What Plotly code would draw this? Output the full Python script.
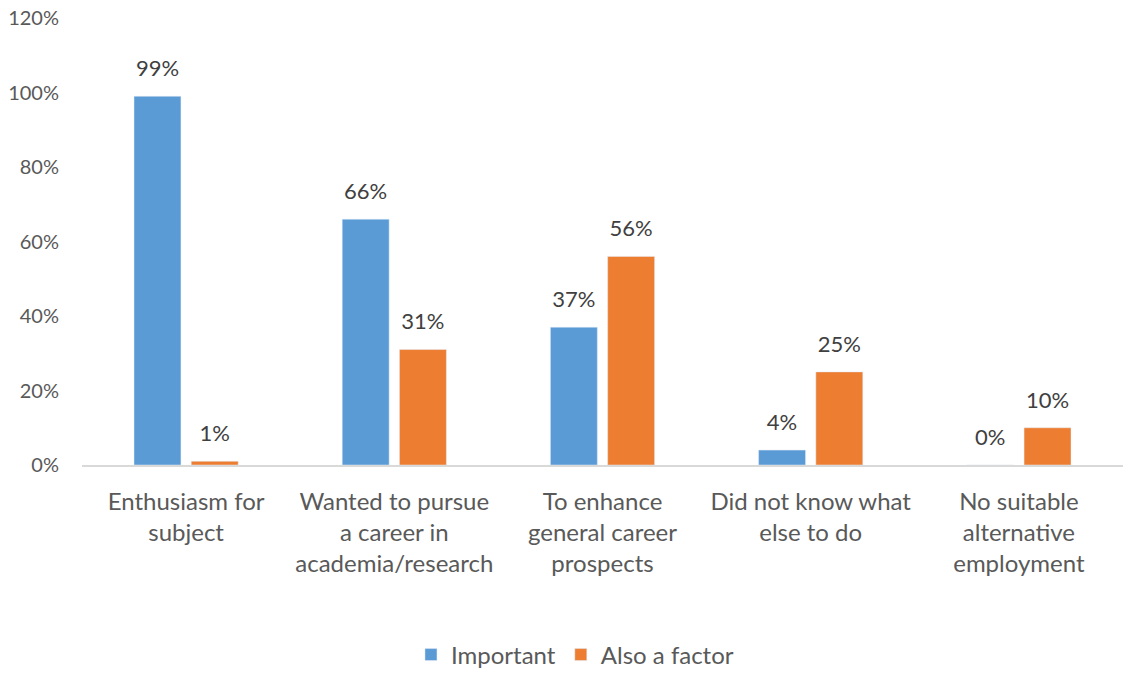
import plotly.graph_objects as go

categories = ["Enthusiasm for<br>subject", "Wanted to pursue<br>a career in<br>academia/research",
              "To enhance<br>general career<br>prospects", "Did not know what<br>else to do",
              "No suitable<br>alternative<br>employment"]
important = [0.99, 0.66, 0.37, 0.04, 0.00]
also_factor = [0.01, 0.31, 0.56, 0.25, 0.10]
y_ticks = [0, 0.2, 0.4, 0.6, 0.8, 1.0, 1.2]

FONT = "Lato"
GREY = "#595959"
BLUE = "#5B9BD5"
ORANGE = "#ED7D31"

fig = go.Figure()
for name, vals, color, grp in [("Important", important, BLUE, "a"),
                               ("Also a factor", also_factor, ORANGE, "b")]:
    fig.add_trace(go.Bar(x=categories, y=vals, name=name, marker_color=color,
                         offsetgroup=grp, hoverinfo="skip"))
for name, vals, grp in [("Important", important, "a"), ("Also a factor", also_factor, "b")]:
    fig.add_trace(go.Scatter(x=categories, y=vals, mode="markers+text",
                             text=[f"{v:.0%}" for v in vals], textposition="top center",
                             marker=dict(size=22, opacity=0), offsetgroup=grp,
                             textfont=dict(size=22, color="#404040", family=FONT),
                             showlegend=False, hoverinfo="skip", cliponaxis=False))

fig.update_layout(
    width=1123, height=675,
    margin=dict(l=82, r=0, t=18, b=210, autoexpand=False),
    plot_bgcolor="white", paper_bgcolor="white",
    font=dict(family=FONT, size=20, color=GREY),
    barmode="group", bargap=0.45, bargroupgap=0.18,
    scattermode="group", scattergap=0.45,
    showlegend=True,
    legend=dict(orientation="h", xref="container", x=0.512, xanchor="center",
                y=-0.425, yanchor="middle", font=dict(size=24, color=GREY, family=FONT),
                traceorder="normal"),
)
fig.update_xaxes(showline=True, linecolor="#D9D9D9", linewidth=1.5, ticks="", tickangle=0,
                 automargin=False,
                 tickfont=dict(size=24, color=GREY, family=FONT), ticklabelstandoff=14)
fig.update_yaxes(range=[0, 1.2], tickvals=y_ticks, tickformat=".0%", showgrid=False,
                 zeroline=False, showline=False, automargin=False,
                 ticklabeloverflow="allow",
                 tickfont=dict(size=20, color=GREY, family=FONT),
                 ticklabelstandoff=22)

fig.write_html("out.html", config={"displayModeBar": False},
               post_script="document.body.style.margin='0';")
